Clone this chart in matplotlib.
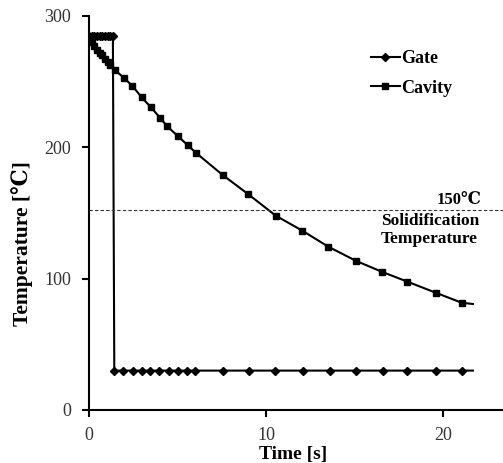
import numpy as np
import matplotlib
matplotlib.use("Agg")
import matplotlib.pyplot as plt

# gate temperature (plateau, then sudden drop when the gate freezes)
gate_t = [0, 0.15, 0.3, 0.45, 0.6, 0.75, 0.9, 1.05, 1.2, 1.35, 1.43, 1.94,
          2.47, 2.99, 3.47, 3.97, 4.52, 5.01, 5.52, 6.01, 7.55, 9.06, 10.5,
          12.07, 13.6, 15.1, 16.6, 18.0, 19.6, 21.1, 21.7]
gate_T = [285, 285, 285, 285, 285, 285, 285, 285, 285, 285, 30, 30,
          30, 30, 30, 30, 30, 30, 30, 30, 30, 30, 30,
          30, 30, 30, 30, 30, 30, 30, 30]

# cavity temperature
cav_t = [0, 0.15, 0.3, 0.45, 0.6, 0.75, 0.9, 1.05, 1.2, 1.45, 2.0, 2.45, 2.98,
         3.5, 4.01, 4.42, 5.01, 5.58, 6.03, 7.55, 9.0, 10.55, 12.05, 13.52,
         15.07, 16.54, 18.0, 19.6, 21.06, 21.7]
cav_T = [284, 280, 277, 274, 272, 270, 267, 265, 263, 259, 252.6, 246.8, 238,
         230.5, 222.6, 216, 208.7, 201.6, 196, 179, 164.3, 148, 136.6, 124.4,
         113.7, 105.3, 97.7, 89.3, 81.7, 80.7]

solid_T = 152

serif = ['Liberation Serif', 'DejaVu Serif']
plt.rcParams['font.family'] = serif

fig = plt.figure(figsize=(5.03, 4.63), dpi=100)
ax = fig.add_axes([89/503, 53/463, 414/503, 394/463])

ax.plot(gate_t, gate_T, color='black', lw=1.5, marker='D', ms=4,
        markevery=list(range(len(gate_t) - 1)), label='Gate')
ax.plot(cav_t, cav_T, color='black', lw=1.5, marker='s', ms=5,
        markevery=list(range(len(cav_t) - 1)), label='Cavity')
ax.axhline(solid_T, color='#333333', lw=0.8, ls=(0, (3, 2)))

ax.set_xlim(0, 23.4)
ax.set_ylim(0, 300)
ax.set_xticks([0, 10, 20])
ax.set_yticks([0, 100, 200, 300])
for s in ['top', 'right']:
    ax.spines[s].set_visible(False)
for s in ['left', 'bottom']:
    ax.spines[s].set_linewidth(1.5)
ax.tick_params(direction='out', length=5, width=1.5, labelsize=13,
               labelcolor='#333333')
ax.tick_params(axis='y', pad=8)
ax.tick_params(axis='x', pad=7)

fig.text(293/503, 1 - 454/463, 'Time [s]', ha='center', va='center',
         fontsize=14, fontweight='bold')
fig.text(22/503, 1 - 244/463, 'Temperature [℃]', ha='center', va='center',
         rotation=90, fontsize=15.5, fontweight='bold')

ax.text(22.2, 160, '150℃', ha='right', va='center', fontsize=12,
        fontweight='bold')
ax.text(16.5, 144, 'Solidification', ha='left', va='center', fontsize=12.5,
        fontweight='bold')
ax.text(16.5, 130, 'Temperature', ha='left', va='center', fontsize=12.5,
        fontweight='bold')

leg = ax.legend(loc='upper left', bbox_to_anchor=(362/503, 1 - 41/463),
                bbox_transform=fig.transFigure, frameon=False,
                handlelength=1.6, handletextpad=0.05, labelspacing=0.7,
                borderpad=0, prop={'family': serif, 'weight': 'bold',
                                   'size': 13})

fig.savefig('out.png', dpi=100)
